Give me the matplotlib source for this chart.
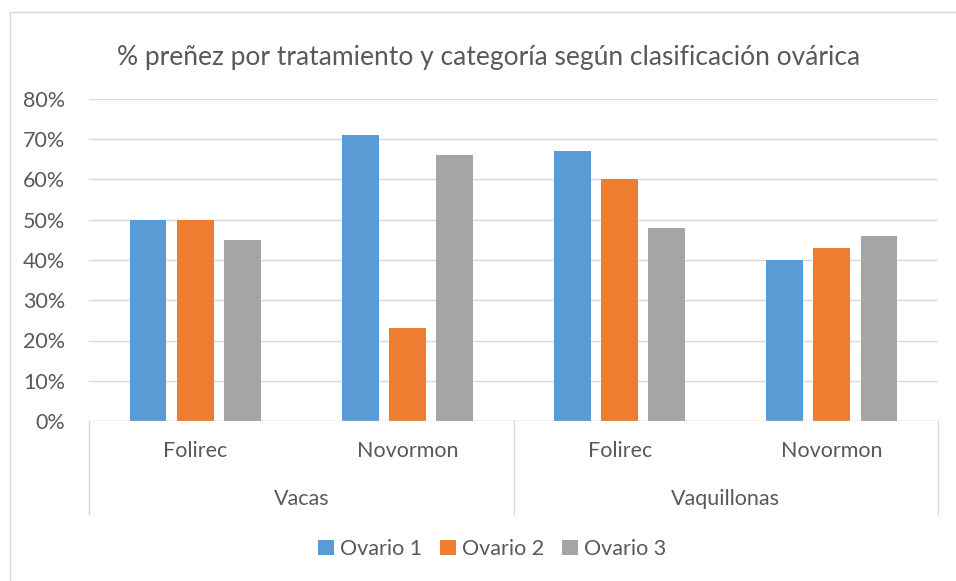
import matplotlib
matplotlib.use("Agg")
import matplotlib.pyplot as plt
import matplotlib.transforms as mtransforms
from matplotlib.patches import Rectangle
import numpy as np

# --- data ---
categories = ["Vacas", "Vaquillonas"]
treatments = ["Folirec", "Novormon", "Folirec", "Novormon"]
series_names = ["Ovario 1", "Ovario 2", "Ovario 3"]
ovario1 = [50, 71, 67, 40]
ovario2 = [50, 23, 60, 43]
ovario3 = [45, 66, 48, 46]
y_ticks = [0, 10, 20, 30, 40, 50, 60, 70, 80]

colors = ["#5B9BD5", "#ED7D31", "#A5A5A5"]
grid_c = "#D9D9D9"
text_c = "#595959"
fs = 15.5
plt.rcParams["font.family"] = ["Lato", "DejaVu Sans"]

fig = plt.figure(figsize=(9.56, 5.81), dpi=100)
ax = fig.add_axes([89 / 956, 1 - 421 / 581, (938 - 89) / 956, (421 - 99) / 581])

# chart border
fig.patches.append(Rectangle((10 / 956, -0.1), 1.2, 1 - 12 / 581 + 0.1,
                             transform=fig.transFigure, fill=False,
                             edgecolor=grid_c, lw=1))

x = np.arange(len(treatments))
w = 0.174
off = 0.222
for i, vals in enumerate([ovario1, ovario2, ovario3]):
    ax.bar(x + (i - 1) * off, vals, width=w, color=colors[i],
           label=series_names[i], zorder=3)

ax.set_xlim(-0.5, len(treatments) - 0.5)
ax.set_ylim(0, 80)
ax.set_yticks(y_ticks)
ax.set_yticklabels([f"{t}%" for t in y_ticks], fontsize=fs, color=text_c)
ax.tick_params(axis="y", length=0, pad=17)
ax.set_xticks([])
for t in y_ticks[1:]:
    ax.axhline(t, color=grid_c, lw=1, zorder=1)
for s in ax.spines.values():
    s.set_visible(False)
ax.axhline(0, color="#BFBFBF", lw=1, zorder=4)

# multi-level category axis
trans = mtransforms.blended_transform_factory(ax.transData, ax.transAxes)
h = ax.get_position().height * 581
below = lambda px: -px / h
for xv in [-0.5, 1.5, 3.5]:
    ax.plot([xv, xv], [0, below(93)], transform=trans, color=grid_c,
            lw=1, clip_on=False)
for xi, name in zip(x, treatments):
    ax.text(xi, below(30), name, transform=trans, ha="center", va="center",
            fontsize=fs, color=text_c)
for gi, name in enumerate(categories):
    ax.text(gi * 2 + 0.5, below(78), name, transform=trans, ha="center",
            va="center", fontsize=fs, color=text_c)

fig.text(489 / 956, 1 - 57 / 581,
         "% preñez por tratamiento y categoría según clasificación ovárica",
         ha="center", va="center", fontsize=19, color=text_c)

fig.legend(loc="center", bbox_to_anchor=(492 / 956, 1 - 549 / 581), ncol=3,
           frameon=False, fontsize=fs, handlelength=0.75, handleheight=0.75,
           handletextpad=0.3, columnspacing=0.8, labelcolor=text_c)

fig.savefig("out.png", dpi=100)
